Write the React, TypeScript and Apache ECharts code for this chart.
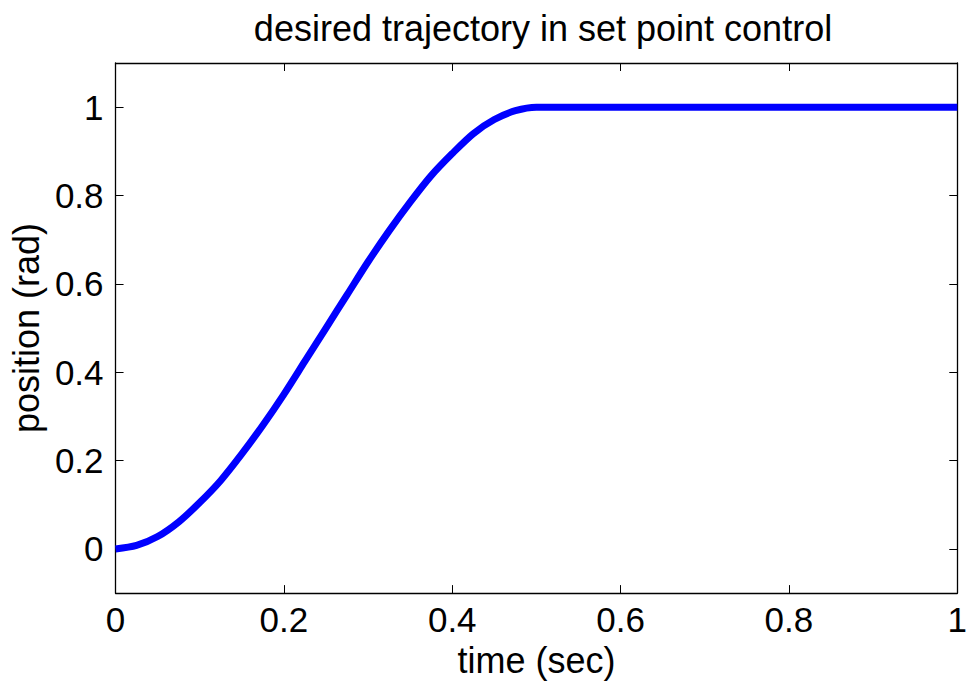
import React, { useEffect, useRef } from "react";
import * as echarts from "echarts";

const timeValues = [0, 0.025, 0.05, 0.075, 0.1, 0.125, 0.15, 0.175, 0.2, 0.225, 0.25, 0.275, 0.3, 0.325, 0.35, 0.375, 0.4, 0.425, 0.45, 0.475, 0.5, 0.6, 0.7, 0.8, 0.9, 1.0];
const positionValues = [0, 0.008, 0.028, 0.061, 0.105, 0.155, 0.215, 0.28, 0.35, 0.425, 0.5, 0.575, 0.65, 0.72, 0.785, 0.845, 0.895, 0.94, 0.972, 0.992, 1.0, 1.0, 1.0, 1.0, 1.0, 1.0];
const yTicks = [0, 0.2, 0.4, 0.6, 0.8, 1];
const xTicks = [0, 0.2, 0.4, 0.6, 0.8, 1];

const FONT = "'Liberation Sans', Arial, Helvetica, sans-serif";

export default function App() {
  const ref = useRef<HTMLDivElement>(null);
  useEffect(() => {
    document.body.style.margin = "0";
    const chart = echarts.init(ref.current!, null, { renderer: "svg" });
    const fmt = (v: number) => String(+(+v).toFixed(1));
    const axisLine = { show: true, onZero: false, lineStyle: { color: "#000", width: 1.3 } };
    const tick = { show: true, inside: true, length: 8, lineStyle: { color: "#000", width: 1 } };
    chart.setOption({
      animation: false,
      backgroundColor: "#fff",
      title: {
        text: "desired trajectory in set point control",
        left: 538,
        textAlign: "center",
        top: 5,
        textStyle: { fontFamily: FONT, fontSize: 36, fontWeight: "normal", color: "#000" },
      },
      grid: { left: 113, right: 7, top: 63, bottom: 88, containLabel: false },
      xAxis: [
        {
          type: "value",
          min: 0,
          max: 1,
          interval: 0.2,
          position: "bottom",
          name: "time (sec)",
          nameLocation: "middle",
          nameGap: 38,
          nameTextStyle: { fontFamily: FONT, fontSize: 36, color: "#000" },
          axisLine,
          axisTick: { ...tick, customValues: xTicks },
          axisLabel: { customValues: xTicks, formatter: fmt, fontFamily: FONT, fontSize: 35, color: "#000", margin: 9 },
          splitLine: { show: false },
        },
        {
          type: "value",
          min: 0,
          max: 1,
          interval: 0.2,
          position: "top",
          axisLine,
          axisTick: { ...tick, customValues: xTicks },
          axisLabel: { show: false },
          splitLine: { show: false },
        },
      ],
      yAxis: [
        {
          type: "value",
          min: -0.1,
          max: 1.1,
          position: "left",
          name: "position (rad)",
          nameLocation: "middle",
          nameGap: 70,
          nameTextStyle: { fontFamily: FONT, fontSize: 36, color: "#000" },
          axisLine,
          axisTick: { ...tick, customValues: yTicks },
          axisLabel: { customValues: yTicks, formatter: fmt, fontFamily: FONT, fontSize: 35, color: "#000", margin: 12 },
          splitLine: { show: false },
        },
        {
          type: "value",
          min: -0.1,
          max: 1.1,
          position: "right",
          axisLine,
          axisTick: { ...tick, customValues: yTicks },
          axisLabel: { show: false },
          splitLine: { show: false },
        },
      ],
      series: [
        {
          type: "line",
          xAxisIndex: 0,
          yAxisIndex: 0,
          data: timeValues.map((t, i) => [t, positionValues[i]]),
          showSymbol: false,
          smooth: 0.3,
          lineStyle: { color: "#0000ff", width: 7 },
          z: 1,
        },
      ],
    });
    return () => chart.dispose();
  }, []);
  return <div ref={ref} style={{ width: 970, height: 683, position: "absolute", left: 0, top: 0 }} />;
}
